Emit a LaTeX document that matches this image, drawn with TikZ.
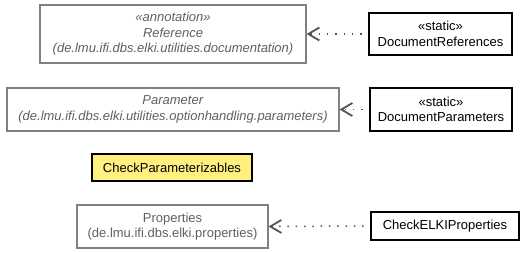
\documentclass[tikz,border=0pt]{standalone}
\usepackage{fontspec}
\setmainfont{Liberation Sans}
\usetikzlibrary{arrows.meta}
\definecolor{pkggray}{HTML}{808080}
\definecolor{pkgtext}{HTML}{606060}
\definecolor{depgray}{HTML}{555555}
\definecolor{focusfill}{HTML}{FFF080}
\begin{document}
\begin{tikzpicture}[x=1pt,y=1pt,
  every node/.style={font=\fontsize{13}{15.5}\selectfont, inner sep=0pt, align=center},
  extclass/.style={draw=pkggray, line width=1.2pt, text=pkgtext, fill=white},
  localclass/.style={draw=black, line width=1.2pt, text=black, fill=white},
  focusclass/.style={draw=black, line width=1.2pt, text=black, fill=focusfill},
  dep/.style={draw=depgray, line width=1.5pt, dash pattern=on 1.5pt off 6.8pt,
    dash phase=1.5pt,
    -{Straight Barb[length=11pt,width=13pt,line width=1.8pt]}}]
\useasboundingbox (0,0) rectangle (525,-253);

\node[extclass, minimum width=266, minimum height=58] (ref) at (173,-34)
  {\textit{«annotation»}\\\textit{Reference}\\\textit{(de.lmu.ifi.dbs.elki.utilities.documentation)}};
\node[localclass, minimum width=143, minimum height=42] (docref) at (440.5,-34)
  {«static»\\DocumentReferences};

\node[extclass, minimum width=332, minimum height=43] (param) at (173,-109.5)
  {\textit{Parameter}\\\textit{(de.lmu.ifi.dbs.elki.utilities.optionhandling.parameters)}};
\node[localclass, minimum width=142, minimum height=43] (docparam) at (441,-109.5)
  {«static»\\DocumentParameters};

\node[focusclass, minimum width=160, minimum height=27] (checkparam) at (172,-167.5)
  {CheckParameterizables};

\node[extclass, minimum width=191, minimum height=43] (props) at (172.5,-226.5)
  {Properties\\(de.lmu.ifi.dbs.elki.properties)};
\node[localclass, minimum width=148, minimum height=28] (checkprops) at (445,-226)
  {CheckELKIProperties};

\draw[dep] (docref.west) -- (ref.east);
\draw[dep] (docparam.west) -- (param.east);
\draw[dep] (checkprops.west) -- (props.east);
\end{tikzpicture}
\end{document}
